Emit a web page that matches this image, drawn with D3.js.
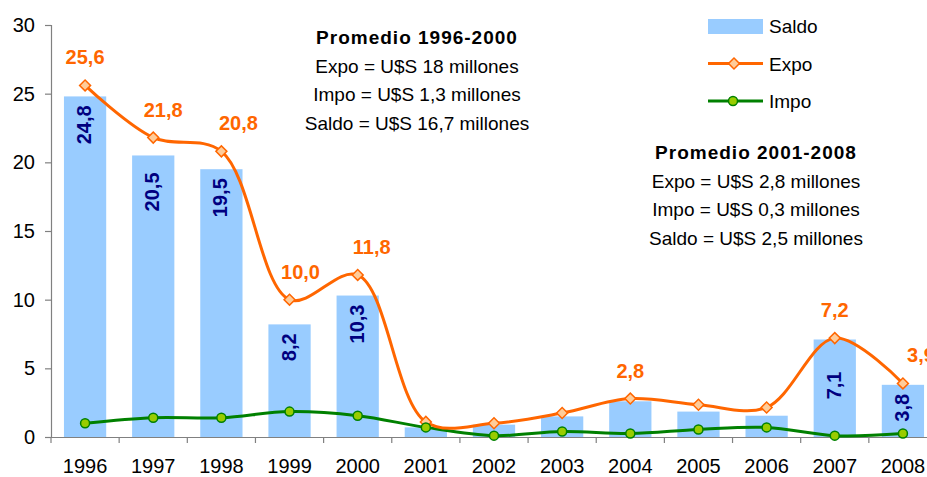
<!DOCTYPE html>
<html>
<head>
<meta charset="utf-8">
<script src="https://cdn.jsdelivr.net/npm/d3@7"></script>
<style>
  body { margin: 0; background: #fff; }
  text { font-family: "Liberation Sans", Arial, sans-serif; }
</style>
</head>
<body>
<div id="chart"></div>
<script>
// Data
const years = ["1996", "1997", "1998", "1999", "2000", "2001", "2002", "2003", "2004", "2005", "2006", "2007", "2008"];
const saldo = [24.8, 20.5, 19.5, 8.2, 10.3, 0.7, 0.9, 1.5, 2.6, 1.85, 1.55, 7.1, 3.8];
const expo = [25.6, 21.8, 20.8, 10.0, 11.8, 1.1, 1.0, 1.75, 2.8, 2.35, 2.15, 7.2, 3.9];
const impo = [1.0, 1.4, 1.4, 1.85, 1.55, 0.7, 0.1, 0.4, 0.25, 0.55, 0.7, 0.1, 0.25];
const yTicks = [0, 5, 10, 15, 20, 25, 30];

// which points carry a value label
const saldoLabelYears = ["1996", "1997", "1998", "1999", "2000", "2007", "2008"];
const expoLabelYears = ["1996", "1997", "1998", "1999", "2000", "2004", "2007", "2008"];

const notes1 = ["Promedio 1996-2000", "Expo = U$S 18 millones", "Impo = U$S 1,3 millones", "Saldo = U$S 16,7 millones"];
const notes2 = ["Promedio 2001-2008", "Expo = U$S 2,8 millones", "Impo = U$S 0,3 millones", "Saldo = U$S 2,5 millones"];

// manual nudges of some labels (as in the original chart)
const expoLabelDx = {"1997": 10, "1998": 17, "1999": 11, "2000": 14, "2008": 18};
const saldoLabelDy = {"1997": 8, "2007": 23};

// colours
const barColor = "#99CCFF";
const expoColor = "#FF6600";
const impoColor = "#008000";

// Dimensions: the plot runs past the right edge, like the original
const W = 927, H = 477;
const margin = {top: 25, left: 51, bottom: 40};
const width = 886;
const height = H - margin.top - margin.bottom;

const svg = d3.select("#chart")
  .append("svg")
  .attr("width", W)
  .attr("height", H)
  .append("g")
  .attr("transform", `translate(${margin.left},${margin.top})`);

const x = d3.scaleBand()
  .domain(years)
  .range([0, width])
  .paddingInner(0.38)
  .paddingOuter(0.19);

const band = d3.scaleBand().domain(years).range([0, width]);
const cx = d => band(d) + band.bandwidth() / 2;

const y = d3.scaleLinear()
  .domain([0, 30])
  .range([height, 0]);

// Bars (Saldo)
svg.selectAll("rect.bar")
  .data(years)
  .enter()
  .append("rect")
  .attr("class", "bar")
  .attr("x", d => x(d))
  .attr("y", (d, i) => y(saldo[i]))
  .attr("width", x.bandwidth())
  .attr("height", (d, i) => height - y(saldo[i]))
  .attr("fill", barColor);

// Axes
const yAxis = svg.append("g")
  .call(d3.axisLeft(y).tickValues(yTicks).tickSize(6).tickPadding(10));
const xAxis = svg.append("g")
  .attr("transform", `translate(0,${height})`)
  .call(d3.axisBottom(band).tickSize(0).tickPadding(22));

// x ticks sit between categories
xAxis.selectAll(".between")
  .data(d3.range(years.length + 1))
  .enter()
  .append("line")
  .attr("x1", i => i * band.step())
  .attr("x2", i => i * band.step())
  .attr("y1", 0)
  .attr("y2", 6)
  .attr("stroke", "#808080");

[yAxis, xAxis].forEach(g => {
  g.selectAll("path, line").attr("stroke", "#808080").attr("stroke-width", 1.2);
  g.selectAll("text")
    .attr("font-size", 20)
    .attr("fill", "#000")
    .style("font-family", "'Liberation Sans', Arial, sans-serif");
});

// Lines
const expoPts = years.map((d, i) => [cx(d), y(expo[i])]);
const impoPts = years.map((d, i) => [cx(d), y(impo[i])]);
const line = d3.line().curve(d3.curveCatmullRom.alpha(0.5));

svg.append("path")
  .datum(impoPts)
  .attr("fill", "none")
  .attr("stroke", impoColor)
  .attr("stroke-width", 3)
  .attr("d", line);

svg.append("path")
  .datum(expoPts)
  .attr("fill", "none")
  .attr("stroke", expoColor)
  .attr("stroke-width", 3)
  .attr("d", line);

// markers
const diamond = d3.symbol().type(d3.symbolSquare).size(60);
svg.selectAll("path.expo-pt")
  .data(expoPts)
  .enter()
  .append("path")
  .attr("class", "expo-pt")
  .attr("d", diamond)
  .attr("transform", p => `translate(${p[0]},${p[1]}) rotate(45)`)
  .attr("fill", "#FFCC99")
  .attr("stroke", expoColor)
  .attr("stroke-width", 1.5);

svg.selectAll("circle.impo-pt")
  .data(impoPts)
  .enter()
  .append("circle")
  .attr("class", "impo-pt")
  .attr("cx", p => p[0])
  .attr("cy", p => p[1])
  .attr("r", 4.5)
  .attr("fill", "#99CC00")
  .attr("stroke", impoColor)
  .attr("stroke-width", 1.5);

// Saldo value labels (rotated, inside the bar top)
saldoLabelYears.forEach(yr => {
  const i = years.indexOf(yr);
  const ty = y(saldo[i]) + 9 + (saldoLabelDy[yr] || 0);
  svg.append("text")
    .attr("transform", `translate(${cx(yr) + 6},${ty}) rotate(-90)`)
    .attr("text-anchor", "end")
    .attr("font-size", 20)
    .attr("font-weight", "bold")
    .attr("fill", "#000080")
    .text(d3.format(".1f")(saldo[i]).replace(".", ","));
});

// Expo value labels
expoLabelYears.forEach(yr => {
  const i = years.indexOf(yr);
  svg.append("text")
    .attr("x", cx(yr) + (expoLabelDx[yr] || 0))
    .attr("y", y(expo[i]) - 21)
    .attr("text-anchor", "middle")
    .attr("font-size", 20)
    .attr("font-weight", "bold")
    .attr("fill", expoColor)
    .text(d3.format(".1f")(expo[i]).replace(".", ","));
});

// Annotation boxes
const root = d3.select("#chart svg");
function addNote(lines, xc, y0) {
  lines.forEach((t, i) => {
    root.append("text")
      .attr("x", xc)
      .attr("y", y0 + i * 28.5)
      .attr("text-anchor", "middle")
      .attr("font-size", i === 0 ? 19 : 19)
      .attr("font-weight", i === 0 ? "bold" : "normal")
      .attr("letter-spacing", i === 0 ? 1 : 0)
      .attr("fill", "#000")
      .text(t);
  });
}
addNote(notes1, 417, 44);
addNote(notes2, 756, 159);

// Legend
const legend = root.append("g").attr("transform", "translate(708,0)");
const legendItems = ["Saldo", "Expo", "Impo"];
legendItems.forEach((name, i) => {
  const ly = 26 + i * 37.5;
  if (name === "Saldo") {
    legend.append("rect")
      .attr("x", 0).attr("y", ly - 7)
      .attr("width", 55).attr("height", 15)
      .attr("fill", barColor);
  } else {
    const c = name === "Expo" ? expoColor : impoColor;
    legend.append("line")
      .attr("x1", 0).attr("x2", 55)
      .attr("y1", ly).attr("y2", ly)
      .attr("stroke", c).attr("stroke-width", 3);
    if (name === "Expo") {
      legend.append("path")
        .attr("d", diamond)
        .attr("transform", `translate(26,${ly}) rotate(45)`)
        .attr("fill", "#FFCC99").attr("stroke", expoColor).attr("stroke-width", 1.5);
    } else {
      legend.append("circle")
        .attr("cx", 25).attr("cy", ly).attr("r", 4.5)
        .attr("fill", "#99CC00").attr("stroke", impoColor).attr("stroke-width", 1.5);
    }
  }
  legend.append("text")
    .attr("x", 61)
    .attr("y", ly + 7)
    .attr("font-size", 19)
    .attr("fill", "#000")
    .text(name);
});
</script>
</body>
</html>
